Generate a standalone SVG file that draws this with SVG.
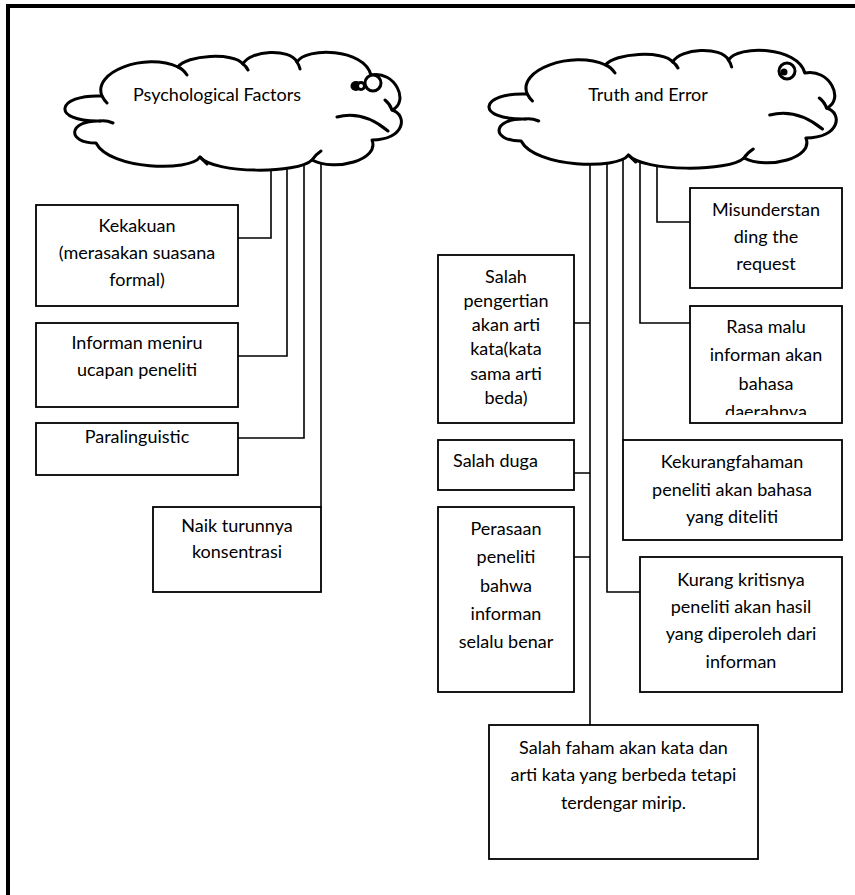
<svg xmlns="http://www.w3.org/2000/svg" xmlns:xlink="http://www.w3.org/1999/xlink" width="855" height="895" viewBox="0 0 855 895">
  <style>
    .frame { fill: none; stroke: #000; stroke-width: 4; }
    .cloud { fill: #fff; stroke: #000; stroke-width: 3; stroke-linejoin: round; }
    .crease { fill: none; stroke: #000; stroke-width: 3; stroke-linecap: round; }
    .bubble { fill: #fff; stroke: #000; stroke-width: 3; }
    .dot { fill: #000; }
    .box { fill: #fff; stroke: #000; stroke-width: 1.8; }
    .wire { fill: none; stroke: #000; stroke-width: 1.6; }
    text { font-family: Lato, "Open Sans", "Liberation Sans", sans-serif; font-size: 18px; fill: #000; }
    .c { text-anchor: middle; }
  </style>
  <defs>
    <g id="cloudShape">
      <path class="cloud" d="M102,96 C92,72 145,52 178,67 C186,55 234,52 243,64 C250,50 290,48 297,62 C306,47 364,48 371,75 C395,70 410,102 392,110 C408,115 405,140 372,140 C380,160 335,172 312,160 C298,174 214,174 200,157 C190,172 110,170 96,143 C66,143 68,120 100,121 C50,122 56,94 102,96 Z"/>
      <path class="crease" d="M178,67 Q183,69 187,75 M243,64 Q246,66 248,70 M297,62 Q299,65 300,69 M392,110 Q390,104 385,100 M337,117 Q363,110 388,131 M312,160 Q315,155 321,151 M200,157 Q203,160 207,164 M100,121 Q106,120 113,123 M102,96 Q104,100 107,103"/>
    </g>
    <clipPath id="clipRasa">
      <rect x="690" y="306" width="152" height="109"/>
    </clipPath>
  </defs>

  <!-- page frame -->
  <path class="frame" d="M8,900 V6 H860"/>

  <!-- connectors (drawn under the clouds) -->
  <g id="connectors">
    <path class="wire" d="M271,140 V238 H238"/>
    <path class="wire" d="M287,140 V356 H238"/>
    <path class="wire" d="M304,140 V438 H238"/>
    <path class="wire" d="M321,140 V507"/>
    <path class="wire" d="M657,140 V222 H690"/>
    <path class="wire" d="M640,140 V323 H690"/>
    <path class="wire" d="M623,140 V440"/>
    <path class="wire" d="M607,140 V592 H640"/>
    <path class="wire" d="M590,140 V725"/>
    <path class="wire" d="M574,323 H590 M574,473 H590 M574,557 H590"/>
  </g>

  <g id="cloud-psychological">
    <use xlink:href="#cloudShape"/>
    <ellipse class="dot" cx="356" cy="86" rx="5.5" ry="5"/>
    <circle class="bubble" cx="361" cy="86" r="3.5"/>
    <circle class="bubble" cx="373" cy="83" r="8"/>
    <text class="c" x="217" y="101">Psychological Factors</text>
  </g>

  <g id="cloud-truth">
    <use xlink:href="#cloudShape" transform="translate(422,-2) scale(1.032,1)"/>
    <circle class="bubble" cx="787" cy="71" r="8"/>
    <circle class="dot" cx="784" cy="72" r="3.5"/>
    <text class="c" x="648" y="101">Truth and Error</text>
  </g>

  <g id="kekakuan">
    <rect class="box" x="36" y="205" width="202" height="101"/>
    <text class="c" x="137" y="232">Kekakuan</text>
    <text class="c" x="137" y="259">(merasakan suasana</text>
    <text class="c" x="137" y="286">formal)</text>
  </g>

  <g id="meniru">
    <rect class="box" x="36" y="323" width="202" height="84"/>
    <text class="c" x="137" y="349">Informan meniru</text>
    <text class="c" x="137" y="376">ucapan peneliti</text>
  </g>

  <g id="paralinguistic">
    <rect class="box" x="36" y="423" width="202" height="52"/>
    <text class="c" x="137" y="443">Paralinguistic</text>
  </g>

  <g id="konsentrasi">
    <rect class="box" x="153" y="507" width="168" height="85"/>
    <text class="c" x="237" y="532">Naik turunnya</text>
    <text class="c" x="237" y="558">konsentrasi</text>
  </g>

  <g id="misunderstanding">
    <rect class="box" x="690" y="188" width="152" height="100"/>
    <text class="c" x="766" y="216">Misunderstan</text>
    <text class="c" x="766" y="243">ding the</text>
    <text class="c" x="766" y="270">request</text>
  </g>

  <g id="rasa-malu">
    <rect class="box" x="690" y="306" width="152" height="117"/>
    <g clip-path="url(#clipRasa)">
      <text class="c" x="766" y="333">Rasa malu</text>
      <text class="c" x="766" y="361">informan akan</text>
      <text class="c" x="766" y="390">bahasa</text>
      <text class="c" x="766" y="418">daerahnya</text>
    </g>
  </g>

  <g id="salah-pengertian">
    <rect class="box" x="438" y="255" width="136" height="168"/>
    <text class="c" x="506" y="283">Salah</text>
    <text class="c" x="506" y="307">pengertian</text>
    <text class="c" x="506" y="331">akan arti</text>
    <text class="c" x="506" y="355">kata(kata</text>
    <text class="c" x="506" y="380">sama arti</text>
    <text class="c" x="506" y="404">beda)</text>
  </g>

  <g id="salah-duga">
    <rect class="box" x="438" y="440" width="136" height="50"/>
    <text x="453" y="467">Salah duga</text>
  </g>

  <g id="perasaan">
    <rect class="box" x="438" y="507" width="136" height="185"/>
    <text class="c" x="506" y="535">Perasaan</text>
    <text class="c" x="506" y="563">peneliti</text>
    <text class="c" x="506" y="592">bahwa</text>
    <text class="c" x="506" y="620">informan</text>
    <text class="c" x="506" y="648">selalu benar</text>
  </g>

  <g id="kekurangfahaman">
    <rect class="box" x="623" y="440" width="219" height="100"/>
    <text class="c" x="732" y="468">Kekurangfahaman</text>
    <text class="c" x="732" y="496">peneliti akan bahasa</text>
    <text class="c" x="732" y="523">yang diteliti</text>
  </g>

  <g id="kurang-kritis">
    <rect class="box" x="640" y="557" width="202" height="135"/>
    <text class="c" x="741" y="586">Kurang kritisnya</text>
    <text class="c" x="741" y="613">peneliti akan hasil</text>
    <text class="c" x="741" y="640">yang diperoleh dari</text>
    <text class="c" x="741" y="668">informan</text>
  </g>

  <g id="salah-faham">
    <rect class="box" x="489" y="725" width="269" height="134"/>
    <text class="c" x="623.5" y="754">Salah faham akan kata dan</text>
    <text class="c" x="623.5" y="781">arti kata yang berbeda tetapi</text>
    <text class="c" x="623.5" y="809">terdengar mirip.</text>
  </g>
</svg>
